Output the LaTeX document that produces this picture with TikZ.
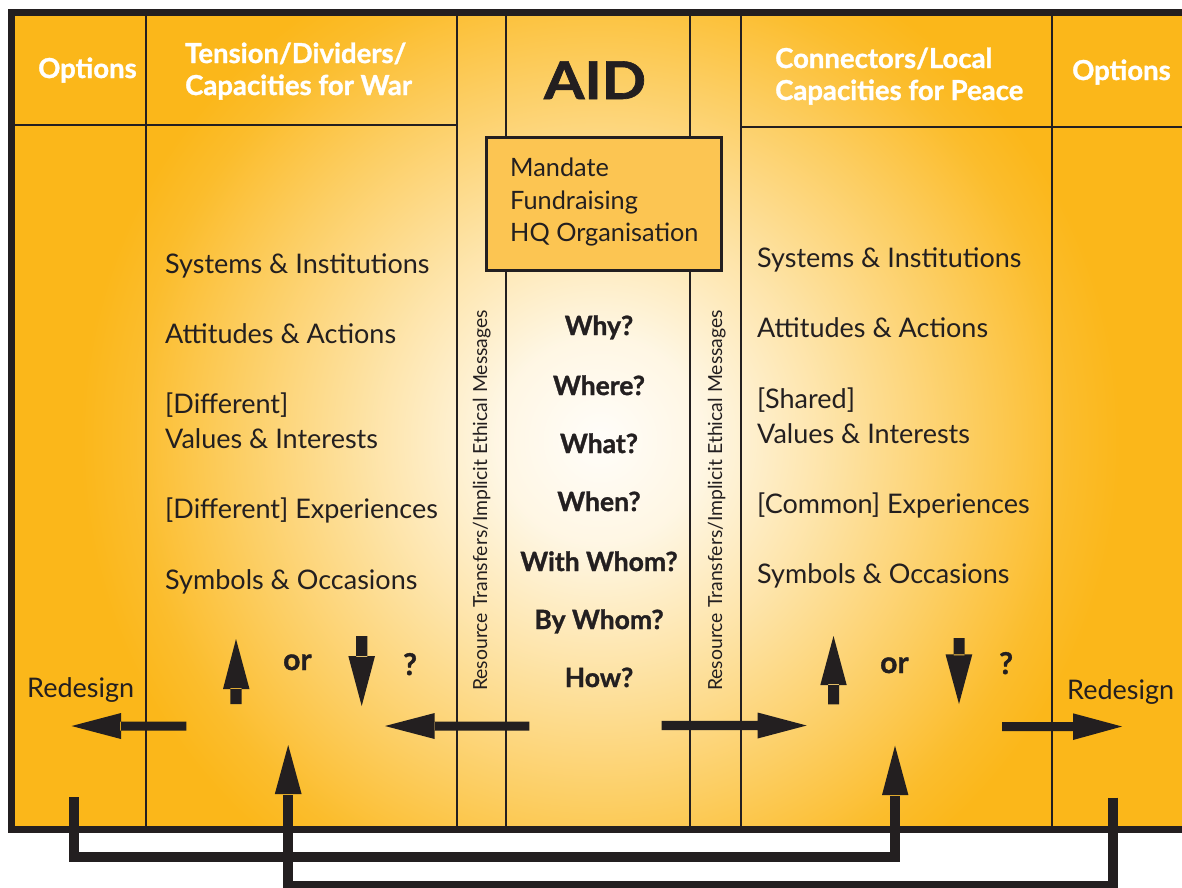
\documentclass[tikz,border=0pt]{standalone}
\usepackage{fontspec}
\setmainfont{Lato}[BoldFeatures={FakeBold=1.2}]
\definecolor{ink}{RGB}{35,31,32}
\definecolor{orng}{RGB}{251,183,26}
\definecolor{boxfill}{RGB}{252,197,82}
\pgfdeclareradialshading{glow}{\pgfpoint{0bp}{0bp}}{%
  color(0bp)=(white!70!orng!8!white);
  color(5bp)=(orng!12!white);
  color(11bp)=(orng!38!white);
  color(17.5bp)=(orng!68!white);
  color(22.5bp)=(orng!92!white);
  color(25bp)=(orng);
  color(50bp)=(orng)}
\begin{document}
\begin{tikzpicture}[x=1pt,y=-1pt,
  thin/.style={draw=ink, line width=2pt},
  body/.style={font=\fontsize{27}{32}\selectfont, text=ink, inner sep=0pt, anchor=base west},
  boxtext/.style={body, font=\fontsize{25.3}{30}\selectfont},
  hdr/.style={font=\fontsize{27.5}{32}\selectfont\bfseries, text=white, inner sep=0pt, anchor=base west},
  qst/.style={font=\fontsize{26.5}{30}\selectfont\bfseries, text=ink, inner sep=0pt, anchor=base},
  orq/.style={qst, anchor=base west, font=\fontsize{30}{34}\selectfont\bfseries},
  rot/.style={font=\fontsize{19.4}{22}\selectfont, text=ink, inner sep=0pt, anchor=base west, rotate=90},
  aidbox/.style={draw=ink, line width=3pt, fill=boxfill, minimum width=235pt, minimum height=133pt, inner sep=0pt},
  conn/.style={draw=ink, line width=10pt, line join=miter, line cap=butt},
  head/.style={fill=ink}]
\useasboundingbox (0,0) rectangle (1182,887);
\fill[white] (0,0) rectangle (1182,887);
% background with radial glow
\fill[orng] (11.5,12.7) rectangle (1182,829.7);
\begin{scope}
  \clip (11.5,12.7) rectangle (1182,829.7);
  \shade[shading=glow] (600,440) circle (520);
\end{scope}
% frame
\draw[ink, line width=6.5pt, line join=miter] (1190,12.7) -- (11.5,12.7) -- (11.5,829.7) -- (1190,829.7);
% box
\node[aidbox] (box) at (604.4,204.4) {};
% column lines
\coordinate (t1) at (146,12.7);   \coordinate (b1) at (146,829.7);
\coordinate (t2) at (457.3,12.7); \coordinate (b2) at (457.3,829.7);
\coordinate (t3) at (505.7,12.7); \coordinate (b3) at (505.7,829.7);
\coordinate (t4) at (690,12.7);   \coordinate (b4) at (690,829.7);
\coordinate (t5) at (740.5,12.7); \coordinate (b5) at (740.5,829.7);
\coordinate (t6) at (1052,12.7);  \coordinate (b6) at (1052,829.7);
\draw[thin] (t1) -- (b1);
\draw[thin] (t2) -- (b2);
\draw[thin] (t3) -- (t3 |- box.north);
\draw[thin] (t3 |- box.south) -- (b3);
\draw[thin] (t4) -- (t4 |- box.north);
\draw[thin] (t4 |- box.south) -- (b4);
\draw[thin] (t5) -- (b5);
\draw[thin] (t6) -- (b6);
\draw[thin] (11.5,125) -- (457.3,125);
\draw[thin] (740.5,126.5) -- (1182,126.5);
% headers
\node[hdr] (optL) at (38,78) {Options};
\node[hdr] (tenA) at (185,63) {Tension/Dividers/};
\node[hdr] (tenB) at (185,95) {Capacities for War};
\node[font=\fontsize{52}{56}\selectfont\bfseries, text=ink, inner sep=0pt, anchor=base, xscale=1.12] (aid) at (595,99) {AID};
\node[hdr] (conA) at (775,68) {Connectors/Local};
\node[hdr] (conB) at (775,100) {Capacities for Peace};
\node[hdr] (optR) at (1072,80) {Options};
% box text
\node[boxtext] (m1) at (510,176.7) {Mandate};
\node[boxtext] (m2) at (510,209) {Fundraising};
\node[boxtext] (m3) at (510,241) {HQ Organisation};
% left column
\node[body] (l1) at (165,273) {Systems \& Institutions};
\node[body] (l2) at (165,343) {Attitudes \& Actions};
\node[body] (l3) at (165,413) {[Different]};
\node[body] (l4) at (165,448) {Values \& Interests};
\node[body] (l5) at (165,518) {[Different] Experiences};
\node[body] (l6) at (165,589) {Symbols \& Occasions};
% right column
\node[body] (r1) at (757,267) {Systems \& Institutions};
\node[body] (r2) at (757,337) {Attitudes \& Actions};
\node[body] (r3) at (757,408) {[Shared]};
\node[body] (r4) at (757,443) {Values \& Interests};
\node[body] (r5) at (757,513) {[Common] Experiences};
\node[body] (r6) at (757,583) {Symbols \& Occasions};
% questions
\node[qst] (q1) at (599,335) {Why?};
\node[qst] (q2) at (599,395) {Where?};
\node[qst] (q3) at (599,453) {What?};
\node[qst] (q4) at (599,511) {When?};
\node[qst] (q5) at (599,571) {With Whom?};
\node[qst] (q6) at (599,629) {By Whom?};
\node[qst] (q7) at (599,687) {How?};
% rotated
\node[rot] (rt1) at (487,691) {Resource Transfers/Implicit Ethical Messages};
\node[rot] (rt2) at (722,691) {Resource Transfers/Implicit Ethical Messages};
% or ?
\node[orq] (orL) at (283,670) {or};
\node[orq] (qmL) at (403,675) {?};
\node[orq] (orR) at (880,673) {or};
\node[orq] (qmR) at (999,674) {?};
\node[body] (redL) at (27,697) {Redesign};
\node[body] (redR) at (1067,699) {Redesign};
% small up/down arrows
\fill[head] (230.3,704) rectangle (241.7,688) (223,689) -- (249.5,689) -- (236,639) -- cycle;
\fill[head] (356,636) rectangle (367.4,657) (348.3,656) -- (375,656) -- (361.7,706) -- cycle;
\fill[head] (828,704.3) rectangle (839,684) (820.3,685) -- (846.7,685) -- (833.5,636) -- cycle;
\fill[head] (953.5,638) rectangle (964.5,655.3) (945.5,654.3) -- (972.3,654.3) -- (959,704) -- cycle;
% horizontal arrows
\fill[head] (120,721.5) rectangle (186.4,730.5) (121,713) -- (121,739) -- (71.6,726) -- cycle;
\fill[head] (434,721.5) rectangle (529.3,730.5) (434.7,713) -- (434.7,739) -- (385,726) -- cycle;
\fill[head] (661.5,720.8) rectangle (758.6,730.2) (757.6,712.5) -- (757.6,738.5) -- (806.6,725.5) -- cycle;
\fill[head] (1002,722) rectangle (1074,731) (1073,713.3) -- (1073,740) -- (1122,726.5) -- cycle;
% feedback connectors
\coordinate (sA) at (74,797);
\coordinate (eA) at (894.8,796);
\coordinate (sB) at (1113,797.7);
\coordinate (eB) at (288.2,795);
\draw[conn] (sA) -- (74,857) -- (eA |- 0,857) -- (eA);
\fill[head] (882,795) -- (908.4,795) -- (895,745.7) -- cycle;
\draw[conn] (sB) -- (1113,885.5) -- (eB |- 0,885.5) -- (eB);
\fill[head] (274.8,794) -- (301.6,794) -- (288.2,745) -- cycle;
\end{tikzpicture}
\end{document}
